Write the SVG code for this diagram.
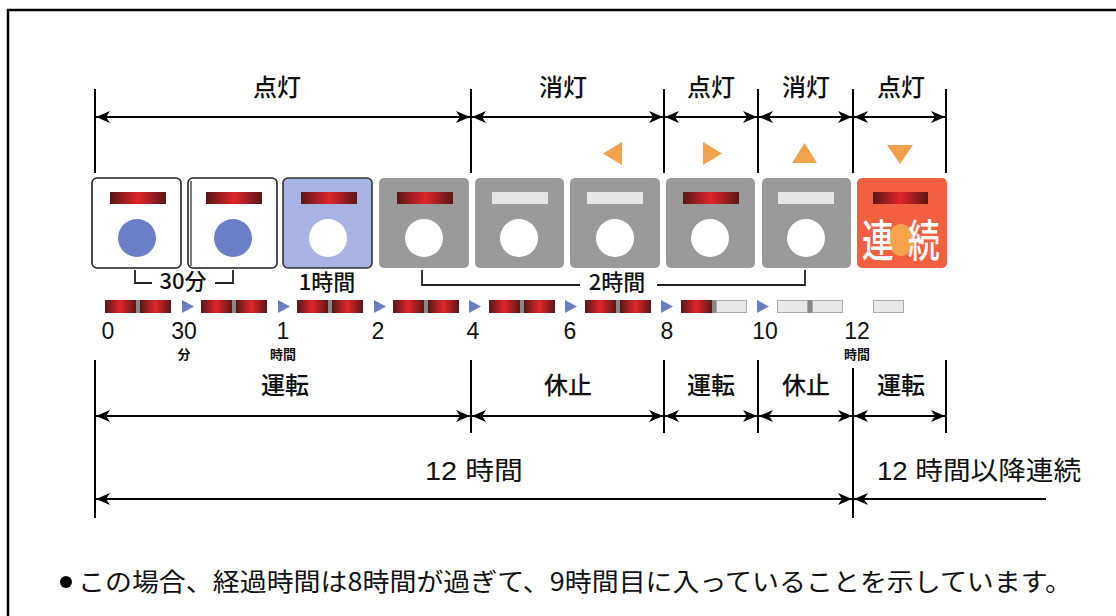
<svg xmlns="http://www.w3.org/2000/svg" width="1116" height="616" viewBox="0 0 1116 616">
<defs>
<linearGradient id="red" x1="0" y1="0" x2="1" y2="0">
<stop offset="0" stop-color="#5a1616"/><stop offset="0.5" stop-color="#e0262a"/><stop offset="1" stop-color="#5a1616"/>
</linearGradient>
<marker id="ah" viewBox="0 0 14 12" refX="14" refY="6" markerWidth="14" markerHeight="12" markerUnits="userSpaceOnUse" orient="auto-start-reverse">
<path d="M0,0 L14,6 L0,12 L4,6 Z" fill="#000"/>
</marker>
<style>
.lbl{font-family:"Noto Sans CJK JP",sans-serif;font-size:24px;font-weight:500;fill:#111;text-anchor:middle}
.big{font-family:"Liberation Sans","Noto Sans CJK JP",sans-serif;font-size:26px;fill:#111}
.num{font-family:"Liberation Sans","Noto Sans CJK JP",sans-serif;font-size:23px;font-weight:500;fill:#111;text-anchor:middle}
.sm{font-family:"Noto Sans CJK JP",sans-serif;font-size:13px;font-weight:700;fill:#111;text-anchor:middle}
.br{font-family:"Noto Sans CJK JP",sans-serif;font-size:22px;font-weight:500;fill:#111;text-anchor:middle}
.vl{stroke:#000;stroke-width:2;fill:none}
.ar{stroke:#000;stroke-width:2;fill:none;marker-start:url(#ah);marker-end:url(#ah)}
.bk{stroke:#222;stroke-width:1.8;fill:none}
.wbox{fill:#fff;stroke:#222;stroke-width:1.6}
.gbox{fill:#9a9a9a}
.rbar{fill:url(#red)}
.lbar{fill:#e6e6e6}
.lseg{fill:#e8e8e8;stroke:#aaa;stroke-width:1}
.div{fill:#888}
.bc{fill:#6b7fc8}
.wc{fill:#fff}
.tri{fill:#6b7fc8}
.otri{fill:#f2a24a}
</style>
</defs>
<rect width="1116" height="616" fill="#fff"/>
<path d="M8,616 V10 H1116" stroke="#000" stroke-width="2.5" fill="none"/>

<g id="connectors">
<path class="vl" d="M95,89 V173 M471,89 V173 M664,89 V173 M758,89 V173 M853,89 V173 M946,89 V173"/>
<line class="ar" x1="96" y1="117" x2="470" y2="117"/>
<line class="ar" x1="472" y1="117" x2="663" y2="117"/>
<line class="ar" x1="665" y1="117" x2="757" y2="117"/>
<line class="ar" x1="759" y1="117" x2="852" y2="117"/>
<line class="ar" x1="854" y1="117" x2="945" y2="117"/>
<path class="vl" d="M95,360 V518 M471,360 V433 M664,360 V433 M758,360 V433 M853,368 V518 M946,360 V433"/>
<line class="ar" x1="96" y1="416" x2="470" y2="416"/>
<line class="ar" x1="472" y1="416" x2="663" y2="416"/>
<line class="ar" x1="665" y1="416" x2="757" y2="416"/>
<line class="ar" x1="759" y1="416" x2="852" y2="416"/>
<line class="ar" x1="854" y1="416" x2="945" y2="416"/>
<line class="ar" x1="96" y1="499" x2="852" y2="499"/>
<line x1="854" y1="499" x2="1046" y2="499" stroke="#000" stroke-width="2" marker-start="url(#ah)"/>
<path class="bk" d="M135,270 V283 H152 M215,283 H233 V270"/>
<path class="bk" d="M422,270 V285 H580 M657,285 H805 V270"/>
</g>

<g id="phase-labels">
<text class="lbl" x="277" y="96">点灯</text>
<text class="lbl" x="563" y="96">消灯</text>
<text class="lbl" x="711" y="96">点灯</text>
<text class="lbl" x="806" y="96">消灯</text>
<text class="lbl" x="901" y="96">点灯</text>
<text class="lbl" x="285" y="394">運転</text>
<text class="lbl" x="568" y="394">休止</text>
<text class="lbl" x="711" y="394">運転</text>
<text class="lbl" x="806" y="394">休止</text>
<text class="lbl" x="901" y="394">運転</text>
<text class="big" x="425" y="480" textLength="98" lengthAdjust="spacingAndGlyphs">12 時間</text>
<text class="big" x="877" y="480" textLength="204" lengthAdjust="spacingAndGlyphs">12 時間以降連続</text>
</g>

<g id="indicators">
<polygon class="otri" points="622,142 622,165 603,153.5"/>
<polygon class="otri" points="703,142 703,165 722,153.5"/>
<polygon class="otri" points="792,163 817,163 804.5,143"/>
<polygon class="otri" points="887,145 913,145 900,164"/>
</g>

<g id="box1"><rect class="wbox" x="92" y="178" width="89" height="90" rx="5"/><rect class="rbar" x="110" y="192" width="56" height="12"/><circle class="bc" cx="137" cy="238" r="19"/></g>
<g id="box2"><rect class="wbox" x="188" y="178" width="89" height="90" rx="5"/><line x1="191" y1="181" x2="191" y2="266" stroke="#222" stroke-width="1.2"/><rect class="rbar" x="206" y="192" width="56" height="12"/><circle class="bc" cx="233" cy="238" r="19"/></g>
<g id="box3"><rect x="283" y="178" width="89" height="90" rx="5" fill="#a9b3e3" stroke="#333" stroke-width="1.6"/><rect class="rbar" x="301" y="192" width="56" height="12"/><circle class="wc" cx="328" cy="238" r="19"/></g>
<g id="box4"><rect class="gbox" x="379" y="178" width="90" height="90" rx="5"/><rect class="rbar" x="397" y="192" width="56" height="12"/><circle class="wc" cx="424" cy="238" r="19"/></g>
<g id="box5"><rect class="gbox" x="475" y="178" width="89" height="90" rx="5"/><rect class="lbar" x="492" y="192" width="56" height="12"/><circle class="wc" cx="519" cy="238" r="19"/></g>
<g id="box6"><rect class="gbox" x="570" y="178" width="90" height="90" rx="5"/><rect class="lbar" x="587" y="192" width="56" height="12"/><circle class="wc" cx="615" cy="238" r="19"/></g>
<g id="box7"><rect class="gbox" x="666" y="178" width="89" height="90" rx="5"/><rect class="rbar" x="683" y="192" width="56" height="12"/><circle class="wc" cx="710" cy="238" r="19"/></g>
<g id="box8"><rect class="gbox" x="762" y="178" width="89" height="90" rx="5"/><rect class="lbar" x="778" y="192" width="56" height="12"/><circle class="wc" cx="806" cy="238" r="19"/></g>
<g id="box9"><rect x="857" y="178" width="90" height="90" rx="5" fill="#f2603f"/><rect class="rbar" x="873" y="192" width="55" height="12"/><ellipse cx="901" cy="240" rx="13" ry="16" fill="#f5a24c"/><text transform="translate(862,257) scale(0.72,1)" x="0" y="0" font-family="Noto Sans CJK JP,sans-serif" font-size="44" font-weight="500" fill="#fff" letter-spacing="20">連続</text></g>

<g id="brackets">
<text class="br" x="183" y="289">30分</text>
<text class="br" x="327" y="290">1時間</text>
<text class="br" x="617" y="290">2時間</text>
</g>

<g id="timeline">
<rect class="rbar" x="105" y="300" width="31" height="13"/><rect class="div" x="136" y="300" width="4" height="13"/><rect class="rbar" x="140" y="300" width="31" height="13"/>
<polygon class="tri" points="182,300 182,313 194,306.5"/>
<rect class="rbar" x="201" y="300" width="31" height="13"/><rect class="div" x="232" y="300" width="4" height="13"/><rect class="rbar" x="236" y="300" width="31" height="13"/>
<polygon class="tri" points="278,300 278,313 290,306.5"/>
<rect class="rbar" x="297" y="300" width="31" height="13"/><rect class="div" x="328" y="300" width="4" height="13"/><rect class="rbar" x="332" y="300" width="31" height="13"/>
<polygon class="tri" points="374,300 374,313 386,306.5"/>
<rect class="rbar" x="393" y="300" width="31" height="13"/><rect class="div" x="424" y="300" width="4" height="13"/><rect class="rbar" x="428" y="300" width="31" height="13"/>
<polygon class="tri" points="469,300 469,313 481,306.5"/>
<rect class="rbar" x="489" y="300" width="31" height="13"/><rect class="div" x="520" y="300" width="4" height="13"/><rect class="rbar" x="524" y="300" width="31" height="13"/>
<polygon class="tri" points="565,300 565,313 577,306.5"/>
<rect class="rbar" x="585" y="300" width="31" height="13"/><rect class="div" x="616" y="300" width="4" height="13"/><rect class="rbar" x="620" y="300" width="31" height="13"/>
<polygon class="tri" points="661,300 661,313 673,306.5"/>
<rect class="rbar" x="681" y="300" width="31" height="13"/><rect class="div" x="712" y="300" width="4" height="13"/><rect class="lseg" x="716.5" y="300.5" width="30" height="12"/>
<polygon class="tri" points="757,300 757,313 769,306.5"/>
<rect class="lseg" x="777.5" y="300.5" width="30" height="12"/><rect class="div" x="808" y="300" width="4" height="13"/><rect class="lseg" x="812.5" y="300.5" width="30" height="12"/>
<rect class="lseg" x="873.5" y="300.5" width="30" height="12"/>
</g>

<g id="scale">
<text class="num" x="108" y="339">0</text>
<text class="num" x="184" y="339">30</text><text class="sm" x="184" y="359">分</text>
<text class="num" x="283" y="339">1</text><text class="sm" x="283" y="359">時間</text>
<text class="num" x="378" y="339">2</text>
<text class="num" x="473" y="339">4</text>
<text class="num" x="570" y="339">6</text>
<text class="num" x="667" y="339">8</text>
<text class="num" x="765" y="339">10</text>
<text class="num" x="857" y="339">12</text><text class="sm" x="857" y="359">時間</text>
</g>

<g id="note">
<circle cx="66" cy="582" r="6" fill="#000"/>
<text x="78" y="591" font-family="Noto Sans CJK JP,sans-serif" font-size="25" fill="#111" textLength="994" lengthAdjust="spacingAndGlyphs">この場合、経過時間は8時間が過ぎて、9時間目に入っていることを示しています。</text>
</g>
</svg>
